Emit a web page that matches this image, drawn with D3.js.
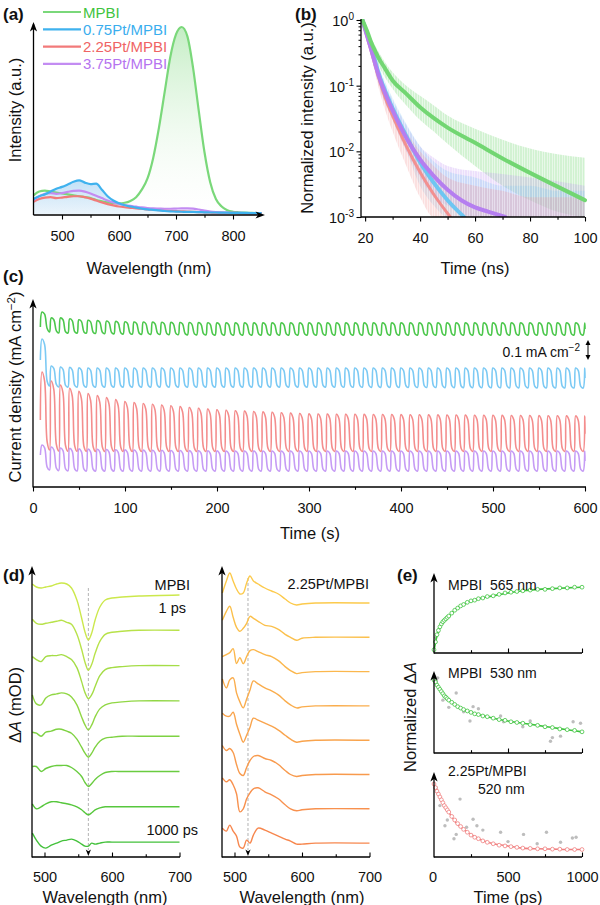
<!DOCTYPE html>
<html>
<head>
<meta charset="utf-8">
<script src="https://cdn.jsdelivr.net/npm/d3@7"></script>
<style>
body { margin: 0; background: #fff; }
svg { display: block; font-family: 'Liberation Sans', Arial, Helvetica, sans-serif; }
</style>
</head>
<body>
<svg id="fig" width="600" height="905"></svg>
<script>
// (a) steady-state PL spectra, normalised to the MPBI peak
var plWave = [450, 460, 470, 480, 490, 500, 510, 520, 530, 540, 550, 560, 570, 580, 590, 600, 610, 620, 630, 640,
    650, 660, 670, 680, 690, 700, 710, 720, 730, 740, 750, 760, 770, 780, 790, 800, 810, 820, 830, 840, 850];
var plMPBI = [0.10, 0.12, 0.125, 0.12, 0.115, 0.11, 0.105, 0.10, 0.095, 0.09, 0.085, 0.075, 0.068, 0.062, 0.058, 0.057,
    0.06, 0.07, 0.09, 0.13, 0.19, 0.30, 0.46, 0.65, 0.84, 0.96, 1.0, 0.95, 0.78, 0.55, 0.33, 0.17, 0.08, 0.04, 0.02,
    0.012, 0.009, 0.007, 0.006, 0.005, 0.005];
var pl075 = [0.08, 0.095, 0.105, 0.12, 0.135, 0.145, 0.158, 0.172, 0.18, 0.168, 0.16, 0.162, 0.13, 0.095, 0.072, 0.057,
    0.047, 0.04, 0.034, 0.029, 0.025, 0.022, 0.019, 0.016, 0.014, 0.013, 0.012, 0.011, 0.011, 0.01, 0.009, 0.008,
    0.008, 0.007, 0.007, 0.006, 0.006, 0.006, 0.005, 0.005, 0.005];
var pl225 = [0.065, 0.08, 0.088, 0.09, 0.085, 0.088, 0.092, 0.095, 0.095, 0.09, 0.082, 0.072, 0.062, 0.053, 0.046, 0.04,
    0.036, 0.033, 0.03, 0.028, 0.025, 0.023, 0.021, 0.019, 0.017, 0.015, 0.014, 0.013, 0.012, 0.01, 0.009, 0.008,
    0.007, 0.007, 0.006, 0.006, 0.005, 0.005, 0.005, 0.005, 0.005];
var pl375 = [0.075, 0.095, 0.108, 0.112, 0.108, 0.112, 0.118, 0.124, 0.125, 0.12, 0.11, 0.098, 0.085, 0.072, 0.062, 0.054,
    0.048, 0.043, 0.039, 0.035, 0.032, 0.03, 0.029, 0.028, 0.028, 0.029, 0.03, 0.03, 0.029, 0.024, 0.018, 0.013,
    0.01, 0.008, 0.007, 0.006, 0.006, 0.005, 0.005, 0.005, 0.005];
var plNames = ['MPBI', '0.75Pt/MPBI', '2.25Pt/MPBI', '3.75Pt/MPBI'];

// (b) TRPL decays: fitted curves and the spread of the raw counts
var trGreenT = [19, 20, 21, 22, 23.3, 25, 27, 30, 35, 40, 45, 50, 60, 70, 80, 90, 100];
var trGreenFit = [1.0, 0.8, 0.63, 0.48, 0.36, 0.26, 0.19, 0.12, 0.075, 0.047, 0.032, 0.023, 0.0135, 0.0078, 0.0047, 0.0029, 0.0018];
var trBlueT = [19, 20, 22, 25, 28, 30, 35, 40, 45, 50, 56];
var trBlueFit = [1, 0.75, 0.42, 0.15, 0.07, 0.045, 0.017, 0.0068, 0.0033, 0.0018, 0.001];
var trRedT = [19, 20, 22, 25, 28, 30, 35, 40, 45, 51];
var trRedFit = [1, 0.7, 0.36, 0.13, 0.055, 0.035, 0.012, 0.0048, 0.0022, 0.001];
var trPurpleT = [19, 20, 22, 25, 28, 30, 35, 40, 45, 50, 55, 60, 65, 71];
var trPurpleFit = [1, 0.72, 0.38, 0.14, 0.065, 0.042, 0.016, 0.0075, 0.0042, 0.0026, 0.0018, 0.0014, 0.0012, 0.001];
var rawT = [19, 22, 25, 30, 35, 40, 45, 50, 60, 70, 80, 90, 100];
var rawGreenLo = [0.85, 0.4, 0.2, 0.09, 0.05, 0.03, 0.02, 0.013, 0.006, 0.003, 0.0018, 0.0012, 0.001];
var rawGreenHi = [1, 0.55, 0.32, 0.16, 0.1, 0.07, 0.05, 0.035, 0.022, 0.015, 0.011, 0.009, 0.008];
var rawBlueLo = [0.85, 0.35, 0.11, 0.03, 0.01, 0.003, 0.0015, 0.001, 0.001, 0.001, 0.001, 0.001, 0.001];
var rawBlueHi = [1, 0.5, 0.2, 0.065, 0.026, 0.012, 0.007, 0.005, 0.004, 0.003, 0.003, 0.0025, 0.0025];
var rawRedLo = [0.85, 0.3, 0.09, 0.02, 0.006, 0.002, 0.001, 0.001, 0.001, 0.001, 0.001, 0.001, 0.001];
var rawRedHi = [1, 0.45, 0.18, 0.05, 0.02, 0.01, 0.006, 0.004, 0.003, 0.0025, 0.002, 0.002, 0.002];
var rawPurpleLo = [0.85, 0.32, 0.1, 0.03, 0.01, 0.004, 0.002, 0.0015, 0.001, 0.001, 0.001, 0.001, 0.001];
var rawPurpleHi = [1, 0.48, 0.18, 0.06, 0.025, 0.012, 0.008, 0.006, 0.005, 0.0045, 0.004, 0.0035, 0.003];

// (c) chopped-light photocurrent (mA cm-2, offset traces): on / off levels at knot times
var jKnotT = [8, 18, 28, 50, 100, 200, 300, 600];
var jGreenOn = [0.875, 0.845, 0.845, 0.835, 0.825, 0.82, 0.82, 0.82];
var jGreenOff = [0.785, 0.775, 0.77, 0.77, 0.765, 0.76, 0.76, 0.76];
var jBlueOn = [0.74, 0.605, 0.6, 0.595, 0.595, 0.595, 0.595, 0.595];
var jBlueOff = [0.51, 0.505, 0.5, 0.5, 0.5, 0.5, 0.5, 0.495];
var jRedOn = [0.575, 0.53, 0.51, 0.475, 0.425, 0.385, 0.365, 0.355];
var jRedOff = [0.195, 0.185, 0.18, 0.178, 0.178, 0.178, 0.178, 0.178];
var jPurpleOn = [0.21, 0.2, 0.195, 0.19, 0.185, 0.18, 0.18, 0.18];
var jPurpleOff = [0.09, 0.085, 0.082, 0.08, 0.08, 0.08, 0.08, 0.08];
var jStart = [0.8, 0.635, 0.335, 0.16];
var jPeriod = 10;

// (d) TA spectra, 1 ps (top) ... 1000 ps (bottom), mOD relative to each trace's baseline
var taWaveL = [482, 488, 495, 502, 510, 518, 525, 533, 540, 548, 555, 560, 565, 570, 575, 582, 590, 600, 615, 640, 700];
var taMPBI = [
    [11, 8, 7, 8, 9, 11, 12, 11, 7, -5, -23, -37, -45, -38, -25, -12, -5, -3, -2, -1, 0],
    [11, 7, 6, 7, 8, 9, 10, 8, 6, -4, -19, -32, -40, -34, -23, -11, -4, -2, -1, 0, 0],
    [9, 6, 4, 9, 10, 10, 11, 9, 6, -2, -16, -27, -33, -29, -21, -10, -4, -2, -1, 0, 0],
    [6, -3, -4, 3, 6, 7, 8, 7, 4, -4, -16, -24, -29, -24, -16, -8, -4, -2, -1, 0, 0],
    [4, 3, 0, 4, 5, 7, 7, 5, 3, -3, -11, -17, -21, -17, -11, -5, -2, -1, 0, 0, 0],
    [5, 5, 0, 3, 5, 6, 6, 6, 4, 0, -5, -11, -15, -12, -8, -4, -1, 0, 0, 0, 0],
    [3, -2, 0, 3, 5, 5, 4, 3, 2, 0, -3, -6, -8, -6, -3, -1, 0, 0, 0, 0, 0],
    [9, 2, -4, -6, -3, -1, 1, 2, 3, 1, -2, -4, -4, -1, -2, -1, 0, 0, 0, 0, 0]
];
var taWaveR = [482, 488, 493, 498, 503, 508, 513, 518, 523, 528, 535, 545, 555, 565, 575, 583, 592, 600, 620, 700];
var taPt = [
    [10, 22, 30, 22, 14, 9, 10, 20, 27, 22, 19, 15, 12, 9, 4, 0, -2, -1, 0, 0],
    [17, 26, 31, 20, 10, 6, 9, 14, 21, 19, 16, 12, 11, 8, 3, 0, -3, -1, 0, 0],
    [15, 17, 19, 23, 8, 14, 8, 15, 21, 22, 20, 17, 15, 11, 5, 1, -2, -1, 0, 0],
    [27, 18, 26, 28, 13, 4, -2, 7, 16, 25, 22, 18, 15, 11, 5, 1, -2, -1, 0, 0],
    [27, 24, 24, 28, 16, 6, -2, 5, 13, 22, 20, 17, 14, 10, 5, 1, -2, -1, 0, 0],
    [29, 24, 26, 22, 10, 1, -1, 7, 14, 18, 19, 16, 14, 10, 4, 0, -2, -1, 0, 0],
    [31, 27, 29, 24, 15, -3, 0, 10, 16, 20, 21, 17, 14, 10, 4, 0, -2, -1, 0, 0],
    [15, 12, 18, 12, 7, -4, -5, 3, 0, 8, 15, 13, 10, 7, 4, 2, -1, -1, 0, 0]
];

// (e) normalised kinetics
var eTimes = [0, 10, 20, 30, 40, 50, 60, 70, 80, 90, 100, 120, 140, 160, 180, 200, 225, 250, 275, 300, 330, 360,
    400, 440, 480, 520, 560, 600, 650, 700, 750, 800, 850, 900, 950, 1000];
var e565 = [0.03, 0.14, 0.24, 0.3, 0.35, 0.39, 0.42, 0.44, 0.46, 0.48, 0.5, 0.54, 0.58, 0.61, 0.64, 0.66, 0.69, 0.71,
    0.72, 0.74, 0.75, 0.77, 0.78, 0.8, 0.82, 0.83, 0.84, 0.85, 0.86, 0.87, 0.87, 0.88, 0.89, 0.89, 0.9, 0.9];
var e530 = [1.0, 0.97, 0.93, 0.9, 0.87, 0.84, 0.81, 0.78, 0.76, 0.74, 0.72, 0.69, 0.66, 0.63, 0.61, 0.59, 0.57, 0.55,
    0.53, 0.52, 0.5, 0.49, 0.47, 0.45, 0.44, 0.42, 0.41, 0.4, 0.38, 0.37, 0.35, 0.34, 0.32, 0.31, 0.3, 0.28];
var e520 = [1.0, 0.95, 0.9, 0.86, 0.82, 0.78, 0.74, 0.7, 0.67, 0.64, 0.61, 0.55, 0.5, 0.45, 0.41, 0.37, 0.33, 0.29,
    0.26, 0.24, 0.21, 0.19, 0.17, 0.15, 0.14, 0.13, 0.12, 0.11, 0.105, 0.1, 0.1, 0.095, 0.095, 0.09, 0.09, 0.09];
var eFitT = [0, 10, 20, 30, 50, 75, 100, 150, 200, 300, 400, 500, 600, 700, 800, 900, 1000];
var fit565 = [0.02, 0.13, 0.23, 0.3, 0.39, 0.45, 0.5, 0.6, 0.66, 0.74, 0.78, 0.82, 0.85, 0.87, 0.88, 0.89, 0.9];
var fit530 = [1.0, 0.97, 0.93, 0.9, 0.84, 0.77, 0.72, 0.64, 0.59, 0.52, 0.47, 0.43, 0.4, 0.37, 0.34, 0.31, 0.28];
var fit520 = [1.0, 0.95, 0.9, 0.86, 0.78, 0.69, 0.61, 0.46, 0.37, 0.24, 0.17, 0.14, 0.11, 0.1, 0.095, 0.09, 0.09];
var eGray565 = [[12, 0.2], [30, 0.28], [55, 0.4]];
var eGray530 = [[5, 1.05], [15, 0.98], [25, 1.03], [60, 0.72], [100, 0.62], [150, 0.82], [200, 0.56], [243, 0.43],
    [264, 0.63], [300, 0.6], [450, 0.5], [470, 0.42], [600, 0.35], [650, 0.43], [787, 0.15], [800, 0.2], [855, 0.22],
    [940, 0.42], [990, 0.4]];
var eGray520 = [[15, 0.95], [40, 0.7], [74, 0.42], [90, 0.5], [135, 0.24], [150, 0.3], [176, 0.79], [220, 0.4],
    [264, 0.51], [290, 0.42], [330, 0.36], [450, 0.33], [500, 0.2], [605, 0.3], [697, 0.17], [760, 0.33], [855, 0.19],
    [935, 0.25], [960, 0.26]];

(function() {
    'use strict';

    var FONT = "'Liberation Sans', Arial, Helvetica, sans-serif";
    var INK = '#111';
    var svg = d3.select('#fig');
    var defs = svg.append('defs');
    svg.append('rect').attr('width', 600).attr('height', 905).attr('fill', '#fff');

    function zip(xs, ys) {
        return xs.map(function(x, i) { return [x, ys[i]]; });
    }

    function label(g, x, y, s, size, anchor, color, bold) {
        return g.append('text').attr('x', x).attr('y', y)
            .attr('font-size', size || 14.5)
            .attr('text-anchor', anchor || 'start')
            .attr('font-weight', bold ? 'bold' : null)
            .attr('fill', color || INK)
            .text(s);
    }

    function vlabel(g, x, y, size) {
        return g.append('text')
            .attr('transform', 'translate(' + x + ',' + y + ') rotate(-90)')
            .attr('dy', '0.35em')
            .attr('text-anchor', 'middle')
            .attr('font-size', size || 16.5)
            .attr('fill', INK);
    }

    function arrowUp(g, x, y) {
        g.append('path')
            .attr('d', 'M' + x + ',' + y + 'l-3.6,9.5l3.6,-2.6l3.6,2.6z')
            .attr('fill', '#000');
    }

    function arrowRight(g, x, y) {
        g.append('path')
            .attr('d', 'M' + x + ',' + y + 'l-9.5,-3.6l2.6,3.6l-2.6,3.6z')
            .attr('fill', '#000');
    }

    function vline(g, x, y0, y1) {
        g.append('line').attr('x1', x).attr('x2', x).attr('y1', y0).attr('y2', y1)
            .attr('stroke', '#000').attr('stroke-width', 1.3);
    }

    function xAxis(g, scale, y, major, minor, opt) {
        var dir = opt.inward ? -1 : 1;
        var ax = g.append('g').attr('transform', 'translate(0,' + y + ')')
            .call(d3.axisBottom(scale).tickValues(major).tickSize(dir * 4.5).tickSizeOuter(0)
                .tickPadding(opt.inward ? 15 : 11)
                .tickFormat(opt.labels ? d3.format('d') : function() { return ''; }));
        ax.select('.domain').remove();
        ax.attr('font-family', FONT).attr('font-size', 14.5);
        ax.selectAll('text').attr('fill', INK);
        ax.selectAll('line').attr('stroke', '#000').attr('stroke-width', 1.1);
        if (minor) {
            var mn = g.append('g').attr('transform', 'translate(0,' + y + ')')
                .call(d3.axisBottom(scale).tickValues(minor).tickSize(dir * 2.8).tickSizeOuter(0).tickFormat(''));
            mn.select('.domain').remove();
            mn.selectAll('line').attr('stroke', '#000').attr('stroke-width', 1.1);
        }
        var r = scale.range();
        g.append('line').attr('x1', opt.x0 !== undefined ? opt.x0 : r[0])
            .attr('x2', opt.x1 !== undefined ? opt.x1 : r[1])
            .attr('y1', y).attr('y2', y)
            .attr('stroke', '#000').attr('stroke-width', 1.3);
    }

    // ---------------- (a) ----------------
    var ga = svg.append('g');
    var xA = d3.scaleLinear().domain([450, 850]).range([33.5, 261.5]);
    var yA = d3.scaleLinear().domain([0, 1]).range([214, 27]);

    var gGreen = defs.append('linearGradient').attr('id', 'gGreen')
        .attr('gradientUnits', 'userSpaceOnUse').attr('x1', 0).attr('x2', 0).attr('y1', 27).attr('y2', 214);
    gGreen.append('stop').attr('offset', 0).attr('stop-color', '#7dd87d').attr('stop-opacity', 0.45);
    gGreen.append('stop').attr('offset', 1).attr('stop-color', '#ffffff').attr('stop-opacity', 0.1);
    var gBlue = defs.append('linearGradient').attr('id', 'gBlue')
        .attr('gradientUnits', 'userSpaceOnUse').attr('x1', 0).attr('x2', 0).attr('y1', 178).attr('y2', 214);
    gBlue.append('stop').attr('offset', 0).attr('stop-color', '#8cc6f0').attr('stop-opacity', 0.55);
    gBlue.append('stop').attr('offset', 1).attr('stop-color', '#d6e9f8').attr('stop-opacity', 0.5);

    var areaA = d3.area().x(function(d) { return xA(d[0]); }).y0(yA(0))
        .y1(function(d) { return yA(d[1]); }).curve(d3.curveMonotoneX);
    var lineA = d3.line().x(function(d) { return xA(d[0]); })
        .y(function(d) { return yA(d[1]); }).curve(d3.curveMonotoneX);

    ga.append('path').attr('d', areaA(zip(plWave, plMPBI))).attr('fill', 'url(#gGreen)');
    ga.append('path').attr('d', areaA(zip(plWave, pl075))).attr('fill', 'url(#gBlue)');

    var plSeries = [plMPBI, pl075, pl225, pl375];
    var plLine = ['#7ad87a', '#3fb2ee', '#f27a7a', '#c38cf2'];
    var plText = ['#3fc43f', '#3aaeee', '#ef6464', '#b574ef'];
    [0, 2, 3, 1].forEach(function(i) {
        ga.append('path').attr('d', lineA(zip(plWave, plSeries[i])))
            .attr('fill', 'none').attr('stroke', plLine[i]).attr('stroke-width', 2.2)
            .attr('stroke-linejoin', 'round');
    });

    vline(ga, 33.5, 215, 24);
    arrowUp(ga, 33.5, 22);
    xAxis(ga, xA, 215, [500, 600, 700, 800], [550, 650, 750], { labels: true, x0: 33.5, x1: 262 });
    arrowRight(ga, 265, 215);
    label(ga, 3, 20, '(a)', 17, 'start', INK, true);
    vlabel(ga, 15, 110).text('Intensity (a.u.)');
    label(ga, 149, 274, 'Wavelength (nm)', 16.5, 'middle');

    plNames.forEach(function(n, i) {
        var ly = 12 + i * 17.3;
        ga.append('line').attr('x1', 43).attr('x2', 81).attr('y1', ly).attr('y2', ly)
            .attr('stroke', plLine[i]).attr('stroke-width', 2.2);
        label(ga, 83, ly + 5.5, n, 15, 'start', plText[i]);
    });

    // ---------------- (b) ----------------
    var gb = svg.append('g');
    var xB = d3.scaleLinear().domain([18.5, 100]).range([361, 585]);
    var yB = d3.scaleLog().domain([1e-3, 1]).range([217, 20]);

    defs.append('clipPath').attr('id', 'clipB').append('rect')
        .attr('x', 361).attr('y', 19).attr('width', 226).attr('height', 198);
    var plotB = gb.append('g').attr('clip-path', 'url(#clipB)');

    // vertical streak pattern so the raw-count spread reads as noisy columns
    function streaks(id, color) {
        var p = defs.append('pattern').attr('id', id).attr('patternUnits', 'userSpaceOnUse')
            .attr('width', 5).attr('height', 40);
        p.append('rect').attr('width', 5).attr('height', 40).attr('fill', color).attr('opacity', 0.16);
        p.append('rect').attr('x', 0.5).attr('width', 1).attr('height', 40).attr('fill', color).attr('opacity', 0.35);
        p.append('rect').attr('x', 3).attr('width', 0.8).attr('height', 40).attr('fill', color).attr('opacity', 0.25);
        return 'url(#' + id + ')';
    }

    var bandB = d3.area().x(function(d) { return xB(d[0]); })
        .y0(function(d) { return yB(d[1]); }).y1(function(d) { return yB(d[2]); })
        .curve(d3.curveMonotoneX);
    var rawSets = [
        [rawGreenLo, rawGreenHi, '#6fd66f', 'stG'],
        [rawPurpleLo, rawPurpleHi, '#c49af2', 'stP'],
        [rawBlueLo, rawBlueHi, '#86ccf4', 'stB'],
        [rawRedLo, rawRedHi, '#f49a9a', 'stR']
    ];
    rawSets.forEach(function(s) {
        var rows = rawT.map(function(t, i) { return [t, s[0][i], s[1][i]]; });
        plotB.append('path').attr('d', bandB(rows)).attr('fill', streaks(s[3], s[2]));
    });

    var lineB = d3.line().x(function(d) { return xB(d[0]); })
        .y(function(d) { return yB(d[1]); }).curve(d3.curveMonotoneX);
    var fitSets = [
        [trRedT, trRedFit, '#f29090', 3],
        [trBlueT, trBlueFit, '#6ec6f2', 4],
        [trPurpleT, trPurpleFit, '#b57ef0', 4],
        [trGreenT, trGreenFit, '#72d672', 4]
    ];
    fitSets.forEach(function(s) {
        plotB.append('path').attr('d', lineB(zip(s[0], s[1])))
            .attr('fill', 'none').attr('stroke', s[2]).attr('stroke-width', s[3])
            .attr('stroke-linecap', 'round');
    });

    vline(gb, 361, 217.6, 19);
    xAxis(gb, xB, 217, [20, 40, 60, 80, 100], [30, 50, 70, 90], { labels: true, x0: 361, x1: 585 });

    var minorB = [];
    [-3, -2, -1].forEach(function(p) {
        for (var m = 2; m <= 9; m++) minorB.push(m * Math.pow(10, p));
    });
    var yMaj = gb.append('g').attr('transform', 'translate(361,0)')
        .call(d3.axisLeft(yB).tickValues([1e-3, 1e-2, 1e-1, 1]).tickSize(4.5).tickFormat(''));
    yMaj.select('.domain').remove();
    yMaj.selectAll('line').attr('stroke', '#000').attr('stroke-width', 1.1);
    var yMin = gb.append('g').attr('transform', 'translate(361,0)')
        .call(d3.axisLeft(yB).tickValues(minorB).tickSize(2.5).tickFormat(''));
    yMin.select('.domain').remove();
    yMin.selectAll('line').attr('stroke', '#000').attr('stroke-width', 1);

    [0, -1, -2, -3].forEach(function(p) {
        var t = gb.append('text').attr('x', 354).attr('y', yB(Math.pow(10, p)) + 6)
            .attr('text-anchor', 'end').attr('font-size', 14.5).attr('fill', INK);
        t.append('tspan').text('10');
        t.append('tspan').attr('font-size', 10).attr('dy', -6).text(p === 0 ? '0' : String(p));
    });

    label(gb, 295, 20, '(b)', 17, 'start', INK, true);
    vlabel(gb, 307, 118).text('Normalized intensity (a.u.)');
    label(gb, 475, 274, 'Time (ns)', 16.5, 'middle');

    // ---------------- (c) ----------------
    var gc = svg.append('g');
    var xC = d3.scaleLinear().domain([0, 600]).range([33, 585]);
    var yC = d3.scaleLinear().domain([0, 0.935]).range([487, 300]);

    function chopTrace(on, off, start) {
        var onAt = d3.scaleLinear().domain(jKnotT).range(on).clamp(true);
        var offAt = d3.scaleLinear().domain(jKnotT).range(off).clamp(true);
        var pts = [];
        var t0 = jKnotT[0];
        for (var t = t0; t < 600; t += jPeriod) {
            var hi = onAt(t);
            var lo = offAt(t);
            var amp = hi - lo;
            pts.push([t, t === t0 ? start : lo]);
            pts.push([t + 1.8, hi]);
            pts.push([t + 4.6, hi - 0.12 * amp]);
            pts.push([t + 7.4, lo + 0.08 * amp]);
        }
        pts.push([600, offAt(600) + 0.5 * (onAt(600) - offAt(600))]);
        return pts.filter(function(p) { return p[0] <= 600; });
    }

    var lineC = d3.line().x(function(d) { return xC(d[0]); })
        .y(function(d) { return yC(d[1]); }).curve(d3.curveCatmullRom.alpha(0.5));
    var jSets = [
        [jGreenOn, jGreenOff, '#4cc74c'],
        [jBlueOn, jBlueOff, '#7ccaf4'],
        [jRedOn, jRedOff, '#f48d8d'],
        [jPurpleOn, jPurpleOff, '#c69cf5']
    ];
    jSets.forEach(function(s, i) {
        gc.append('path').attr('d', lineC(chopTrace(s[0], s[1], jStart[i])))
            .attr('fill', 'none').attr('stroke', s[2]).attr('stroke-width', 1.6)
            .attr('stroke-linejoin', 'round');
    });

    vline(gc, 33, 487.6, 303);
    arrowUp(gc, 33, 299);
    xAxis(gc, xC, 487, d3.range(0, 601, 100), d3.range(50, 600, 100), { labels: true, x0: 33, x1: 586 });

    // 0.1 mA cm-2 scale bar
    var sbTop = yC(0.735);
    var sbBot = yC(0.635);
    gc.append('line').attr('x1', 588).attr('x2', 588).attr('y1', sbTop + 2).attr('y2', sbBot - 2)
        .attr('stroke', '#000').attr('stroke-width', 1);
    gc.append('path').attr('d', 'M588,' + sbTop + 'l-2.5,5h5z').attr('fill', '#000');
    gc.append('path').attr('d', 'M588,' + sbBot + 'l-2.5,-5h5z').attr('fill', '#000');
    var sb = gc.append('text').attr('x', 580).attr('y', 357).attr('text-anchor', 'end')
        .attr('font-size', 14).attr('fill', INK);
    sb.append('tspan').text('0.1 mA cm');
    sb.append('tspan').attr('font-size', 10).attr('dy', -6).text('\u22122');

    label(gc, 3, 282, '(c)', 17, 'start', INK, true);
    var yct = vlabel(gc, 15, 387);
    yct.append('tspan').text('Current density (mA cm');
    yct.append('tspan').attr('font-size', 11.5).attr('dy', -6).text('\u22122');
    yct.append('tspan').attr('dy', 6).text(')');
    label(gc, 310, 539, 'Time (s)', 16.5, 'middle');

    // ---------------- (d) ----------------
    var gd = svg.append('g');
    var xDL = d3.scaleLinear().domain([481.5, 700]).range([32, 179.5]);
    var xDR = d3.scaleLinear().domain([481.5, 700]).range([222, 369.5]);
    var yD = d3.scaleLinear().domain([0, 290]).range([857, 567]);

    function drawStack(xs, waves, spectra, base, step, c0, c1) {
        var col = d3.interpolateRgb(c0, c1);
        spectra.forEach(function(vals, i) {
            var off = base - i * step;
            var line = d3.line().x(function(d) { return xs(d[0]); })
                .y(function(d) { return yD(off + d[1]); }).curve(d3.curveCatmullRom.alpha(0.5));
            gd.append('path').attr('d', line(zip(waves, vals)))
                .attr('fill', 'none').attr('stroke', col(i / (spectra.length - 1)))
                .attr('stroke-width', 1.4).attr('stroke-linejoin', 'round');
        });
    }

    function guide(xs, wl, yTop) {
        var x = xs(wl);
        gd.append('line').attr('x1', x).attr('x2', x).attr('y1', yTop).attr('y2', 850)
            .attr('stroke', '#aaa').attr('stroke-width', 0.9).attr('stroke-dasharray', '3,2');
        gd.append('path').attr('d', 'M' + x + ',856l-2.6,-6.5l2.6,1.8l2.6,-1.8z').attr('fill', '#000');
    }

    guide(xDL, 565, 588);
    guide(xDR, 520, 578);
    drawStack(xDL, taWaveL, taMPBI, 262, 35.3, '#cce84c', '#43c13b');
    drawStack(xDR, taWaveR, taPt, 254, 34.3, '#fcca4c', '#f7874e');

    vline(gd, 32, 857.6, 570);
    arrowUp(gd, 32, 566);
    xAxis(gd, xDL, 857, [500, 600, 700], [550, 650], { labels: true, inward: true, x0: 32, x1: 180 });
    vline(gd, 222, 857.6, 570);
    arrowUp(gd, 222, 566);
    xAxis(gd, xDR, 857, [500, 600, 700], [550, 650], { labels: true, inward: true, x0: 222, x1: 370 });

    label(gd, 190, 590, 'MPBI', 14.5, 'end');
    label(gd, 186, 613, '1 ps', 14.5, 'end');
    label(gd, 198, 835, '1000 ps', 14.5, 'end');
    label(gd, 369, 589, '2.25Pt/MPBI', 14.5, 'end');

    label(gd, 3, 581, '(d)', 17, 'start', INK, true);
    var ydt = vlabel(gd, 15, 705);
    ydt.append('tspan').text('\u0394');
    ydt.append('tspan').attr('font-style', 'italic').text('A');
    ydt.append('tspan').text(' (mOD)');
    label(gd, 105, 903, 'Wavelength (nm)', 16.5, 'middle');
    label(gd, 302, 903, 'Wavelength (nm)', 16.5, 'middle');

    // ---------------- (e) ----------------
    var ge = svg.append('g');
    var xE = d3.scaleLinear().domain([0, 1000]).range([434, 582]);
    var eRows = [
        { base: 653, top: 573, marks: e565, fit: fit565, gray: eGray565, color: '#3fc43f' },
        { base: 753, top: 671, marks: e530, fit: fit530, gray: eGray530, color: '#3fc43f' },
        { base: 857, top: 772, marks: e520, fit: fit520, gray: eGray520, color: '#f07f7f' }
    ];
    eRows.forEach(function(r, k) {
        var yE = d3.scaleLinear().domain([0, 1]).range([r.base - 1, r.base - 73]);
        ge.selectAll(null).data(r.gray).enter().append('circle')
            .attr('cx', function(d) { return xE(d[0]); })
            .attr('cy', function(d) { return yE(d[1]); })
            .attr('r', 1.7).attr('fill', '#bdbdbd');
        var line = d3.line().x(function(d) { return xE(d[0]); })
            .y(function(d) { return yE(d[1]); }).curve(d3.curveMonotoneX);
        ge.append('path').attr('d', line(zip(eFitT, r.fit)))
            .attr('fill', 'none').attr('stroke', r.color).attr('stroke-width', 1.6);
        ge.selectAll(null).data(zip(eTimes, r.marks)).enter().append('circle')
            .attr('cx', function(d) { return xE(d[0]); })
            .attr('cy', function(d) { return yE(d[1]); })
            .attr('r', 1.9).attr('fill', '#fff').attr('stroke', r.color).attr('stroke-width', 0.8);

        vline(ge, 434, r.base + 0.6, r.top + 3);
        arrowUp(ge, 434, r.top);
        xAxis(ge, xE, r.base, [500, 1000], [250, 750], { labels: k === 2, inward: true, x0: 434, x1: 582 });
    });
    // the 0 label sits under the shared y-axis
    label(ge, 433, 882, '0', 14.5, 'middle');

    label(ge, 448, 590, 'MPBI\u00a0\u00a0565 nm', 14);
    label(ge, 448, 678, 'MPBI\u00a0\u00a0530 nm', 14);
    label(ge, 448, 776, '2.25Pt/MPBI', 14);
    label(ge, 478, 794, '520 nm', 14);

    label(ge, 397, 581, '(e)', 17, 'start', INK, true);
    var yet = vlabel(ge, 410, 717);
    yet.append('tspan').text('Normalized \u0394');
    yet.append('tspan').attr('font-style', 'italic').text('A');
    label(ge, 508, 903, 'Time (ps)', 16.5, 'middle');
}());
</script>
</body>
</html>
